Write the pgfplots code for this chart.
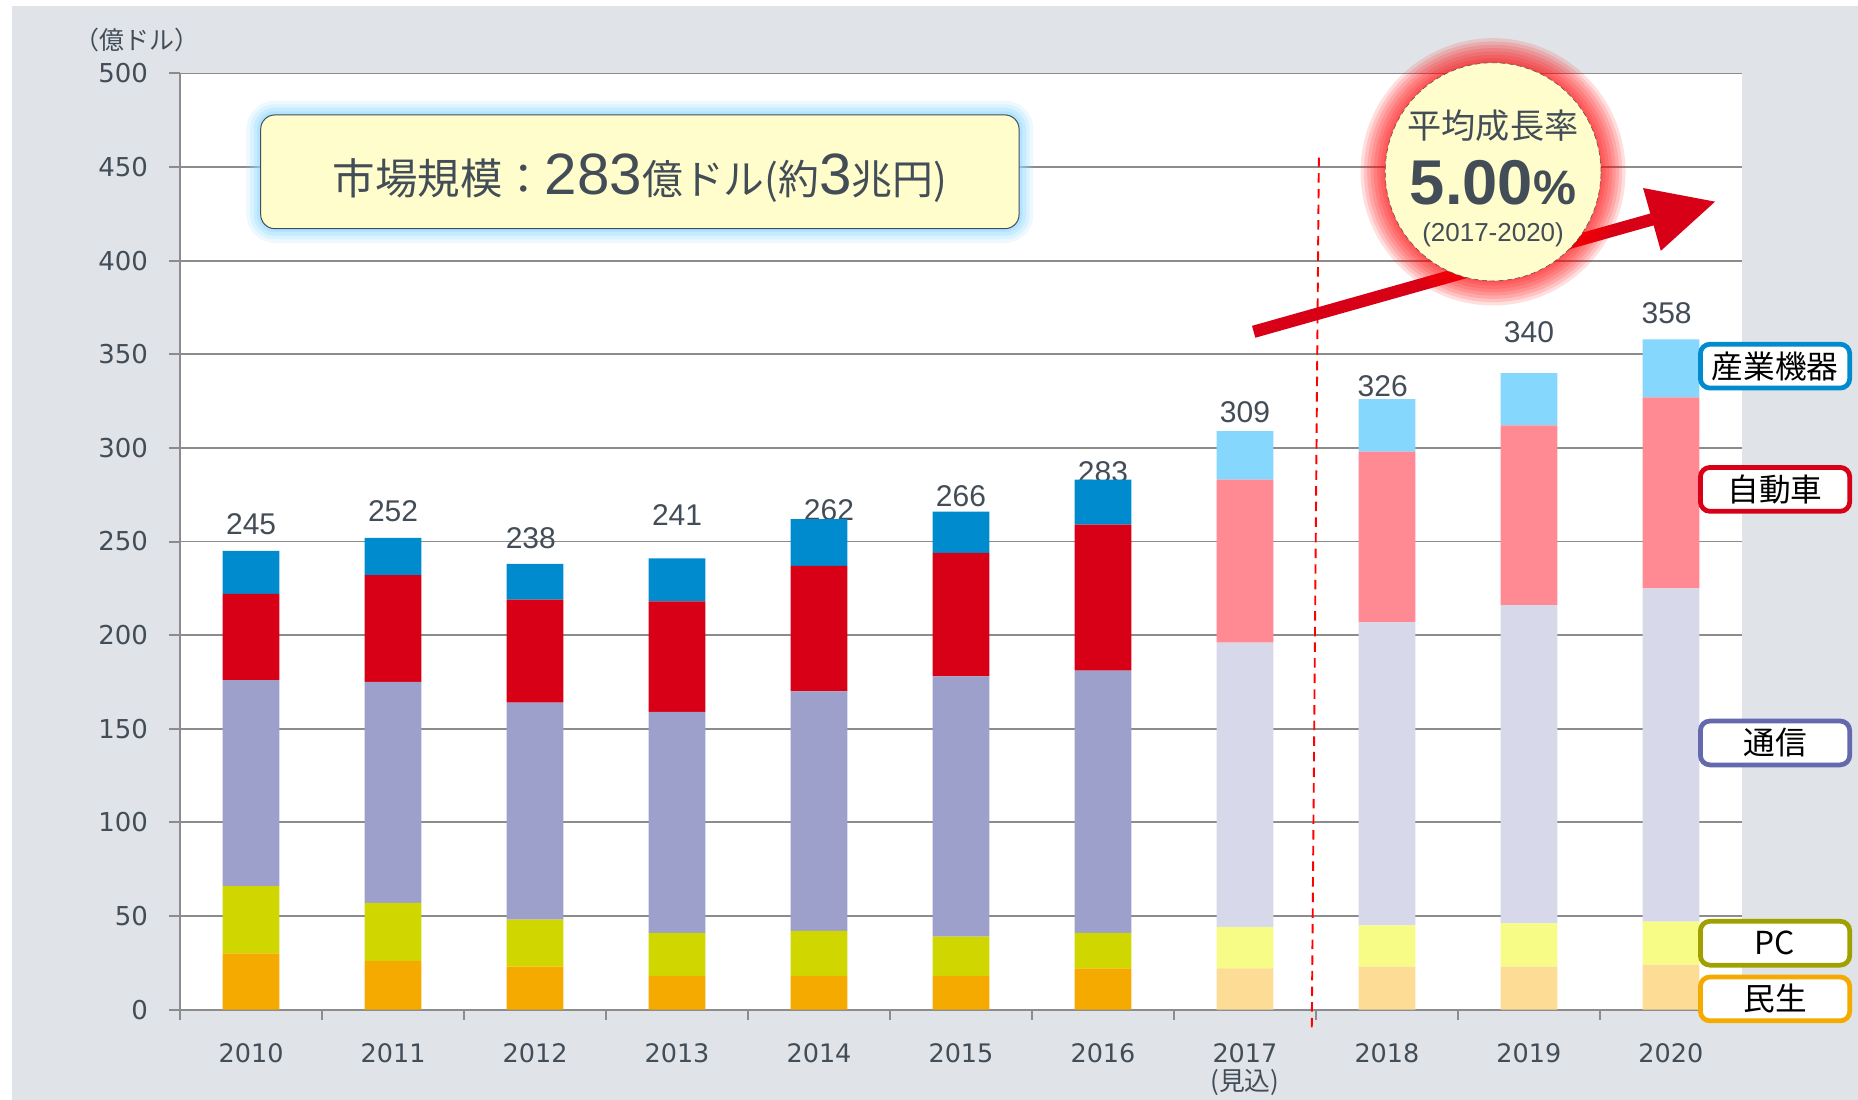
\documentclass[border=0pt]{standalone}
\usepackage{pgfplots}
\pgfplotsset{compat=1.18}
\usepackage{pgfplotstable}
\usepackage{fontspec}
\setmainfont{Liberation Sans}
\newfontfamily\cjk{Noto Sans CJK JP}
\newfontfamily\dejavu{DejaVu Sans}
\usetikzlibrary{arrows.meta}

\definecolor{bggray}{HTML}{E0E4E8}
\definecolor{gridgray}{HTML}{8C8C8C}
\definecolor{txt}{HTML}{434D57}
% actual values (2010-2016)
\definecolor{a1}{HTML}{F5AA00}
\definecolor{a2}{HTML}{D0D700}
\definecolor{a3}{HTML}{9DA0CB}
\definecolor{a4}{HTML}{D70016}
\definecolor{a5}{HTML}{008BCF}
% forecast (2017-2020)
\definecolor{f1}{HTML}{FDDC96}
\definecolor{f2}{HTML}{F7FC87}
\definecolor{f3}{HTML}{D7D8E9}
\definecolor{f4}{HTML}{FF8A93}
\definecolor{f5}{HTML}{86D7FD}
\definecolor{boxpurple}{HTML}{6468AC}
\definecolor{boxolive}{HTML}{A0A000}
\definecolor{glowblue}{HTML}{8FD8FF}
\definecolor{paleyellow}{HTML}{FFFDCB}

% columns: 民生, PC, 通信, 自動車, 産業機器
\pgfplotstableread{
x  min pc  com  car ind
0  30  36  110  46  23
1  26  31  118  57  20
2  23  25  116  55  19
3  18  23  118  59  23
4  18  24  128  67  25
5  18  21  139  66  22
6  22  19  140  78  24
7  0   0   0    0   0
8  0   0   0    0   0
9  0   0   0    0   0
10 0   0   0    0   0
}\actual
\pgfplotstableread{
x  min pc  com  car ind
0  0   0   0    0   0
1  0   0   0    0   0
2  0   0   0    0   0
3  0   0   0    0   0
4  0   0   0    0   0
5  0   0   0    0   0
6  0   0   0    0   0
7  22  22  152  87  26
8  23  22  162  91  28
9  23  23  170  96  28
10 24  23  178  102 31
}\forecast

\begin{document}
\begin{tikzpicture}
\useasboundingbox (0,0) rectangle (392mm,232mm);
\fill[bggray] (2.5mm,0) rectangle (392mm,230.75mm);

\begin{axis}[
  at={(38mm,19mm)}, anchor=south west,
  scale only axis, width=329.5mm, height=197.5mm,
  axis background/.style={fill=white},
  ybar stacked, bar width=0.4,
  xmin=-0.5, xmax=10.5, ymin=0, ymax=500,
  axis x line*=bottom, axis y line*=left,
  axis line style={draw=gridgray, line width=1.2pt, -},
  tick align=outside,
  major tick length=2.25mm,
  tick style={draw=gridgray, line width=1.2pt},
  ytick={0,50,...,500},
  ymajorgrids, grid style={draw=gridgray, line width=1.1pt},
  /pgf/number format/assume math mode=true,
  yticklabel style={font=\dejavu\fontsize{15.6}{18}\selectfont, text=txt, xshift=-3.3mm},
  xtick={-0.5,0.5,...,10.5}, xticklabels={},
  extra x ticks={0,...,10},
  extra x tick labels={2010,2011,2012,2013,2014,2015,2016,{2017\\[-0.8mm]{\cjk\fontsize{15.5}{17}\selectfont (見込)}},2018,2019,2020},
  extra x tick style={major tick length=0pt, grid=none,
    xticklabel style={font=\dejavu\fontsize{15.3}{19}\selectfont, text=txt, align=center, anchor=north, yshift=-6mm}},
  every axis plot/.append style={draw=none},
]
\addplot[fill=a1] table[x=x,y=min]{\actual};
\addplot[fill=f1] table[x=x,y=min]{\forecast};
\addplot[fill=a2] table[x=x,y=pc]{\actual};
\addplot[fill=f2] table[x=x,y=pc]{\forecast};
\addplot[fill=a3] table[x=x,y=com]{\actual};
\addplot[fill=f3] table[x=x,y=com]{\forecast};
\addplot[fill=a4] table[x=x,y=car]{\actual};
\addplot[fill=f4] table[x=x,y=car]{\forecast};
\addplot[fill=a5] table[x=x,y=ind]{\actual};
\addplot[fill=f5] table[x=x,y=ind]{\forecast};

\tikzset{vlab/.style={font=\fontsize{18}{20}\selectfont, text=txt}}
\node[vlab] at (axis cs:0,259) {245};
\node[vlab] at (axis cs:1,266) {252};
\node[vlab] at (axis cs:1.97,252) {238};
\node[vlab] at (axis cs:3,264) {241};
\node[vlab] at (axis cs:4.07,267) {262};
\node[vlab] at (axis cs:5,274) {266};
\node[vlab] at (axis cs:6,287) {283};
\node[vlab] at (axis cs:7,319) {309};
\node[vlab] at (axis cs:7.97,333) {326};
\node[vlab] at (axis cs:9,362) {340};
\node[vlab] at (axis cs:9.97,372) {358};
\end{axis}

% unit label
\node[text=txt, font=\cjk\fontsize{15}{18}\selectfont] at (29mm,223.5mm) {（億ドル）};

% forecast separator
\draw[red, line width=0.4mm, dash pattern=on 2mm off 1.3mm] (278.25mm,198.75mm) -- (276.75mm,14.5mm);

% growth arrow
\draw[draw=a4, line width=2.6mm, -{Triangle[length=14mm,width=13mm]}] (264.5mm,162mm) -- (362mm,189.5mm);

% growth circle with red glow
\foreach \r in {5.2,4.5,3.8,3.1,2.4,1.7,1.0,0.4}
  \fill[red, opacity=0.13] (315mm,195.75mm) ellipse ({22.75mm+\r mm} and {23mm+\r mm});
\filldraw[fill=paleyellow, draw=txt, line width=0.3pt, densely dashed] (315mm,195.75mm) ellipse (22.75mm and 23mm);
\node[text=txt, font=\cjk\fontsize{20.5}{24}\selectfont] at (315mm,205.5mm) {平均成長率};
\node[text=txt, font=\bfseries\fontsize{38}{44}\selectfont, inner sep=0pt] at (315mm,193.5mm) {5.00{\fontsize{29}{34}\selectfont\%}};
\node[text=txt, font=\fontsize{15.6}{18}\selectfont] at (315mm,182.5mm) {(2017-2020)};

% market size box with blue glow
\foreach \w/\o in {6/0.15,4.5/0.2,3/0.25,1.5/0.35}
  \draw[glowblue, line width=\w mm, opacity=\o, rounded corners=3mm] (55mm,183.75mm) rectangle (215mm,207.75mm);
\filldraw[fill=paleyellow, draw=txt, line width=0.6pt, rounded corners=3mm] (55mm,183.75mm) rectangle (215mm,207.75mm);
\node[text=txt, anchor=base] at (135mm,191mm) {{\cjk\fontsize{25.5}{28}\selectfont 市場規模：}{\fontsize{35}{40}\selectfont 283}{\cjk\fontsize{24.5}{28}\selectfont 億ドル(約}{\fontsize{35}{40}\selectfont 3}{\cjk\fontsize{24.5}{28}\selectfont 兆円)}};

% series labels on the right
\tikzset{sbox/.style={draw=#1, fill=white, line width=1mm, rounded corners=2mm,
  minimum width=31.5mm, minimum height=9.25mm, inner sep=0pt,
  font=\cjk\fontsize{19}{22}\selectfont, text=black}}
\node[sbox=a5] at (374.5mm,154.75mm) {産業機器};
\node[sbox=a4] at (374.5mm,128.75mm) {自動車};
\node[sbox=boxpurple] at (374.5mm,75.25mm) {通信};
\node[sbox=boxolive] at (374.5mm,33mm) {PC};
\node[sbox=a1] at (374.5mm,21.25mm) {民生};
\end{tikzpicture}
\end{document}
